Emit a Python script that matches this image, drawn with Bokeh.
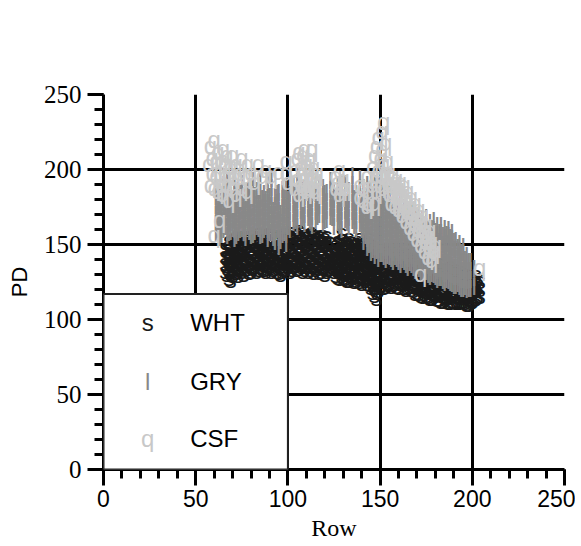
from bokeh.plotting import figure
from bokeh.models import (Range1d, SingleIntervalTicker, ColumnDataSource,
                          BoxAnnotation, Label)
from bokeh.core.properties import value
from bokeh.embed import file_html
from bokeh.resources import INLINE

# ---------------- data ----------------
SERIES = ["WHT", "GRY", "CSF"]
MARKS = ["s", "l", "q"]
COLORS = ["#1a1a1a", "#888888", "#c8c8c8"]

WHT_ROWS = [
    (66, [133, 138, 143, 148]), (67, [131, 137, 143, 149]),
    (68, [128, 134, 139, 144, 149, 153]), (69, [127, 133, 139, 145, 151]),
    (70, [130, 135, 140, 145, 150, 154]), (71, [132, 138, 144, 150, 155]),
    (72, [132, 137, 142, 147, 152, 156]), (73, [130, 136, 142, 148, 154]),
    (74, [134, 139, 144, 149, 153]), (75, [133, 139, 145, 151, 156]),
    (76, [131, 136, 141, 146, 151, 155]), (77, [134, 140, 146, 152, 156]),
    (78, [135, 140, 145, 150, 155]), (79, [132, 138, 144, 150, 155]),
    (80, [133, 138, 143, 148, 153, 157]), (81, [135, 141, 147, 153, 157]),
    (82, [136, 141, 146, 151, 155]), (83, [133, 139, 145, 151, 156]),
    (84, [134, 139, 144, 149, 154, 158]), (85, [136, 142, 148, 154]),
    (86, [135, 140, 145, 150, 155]), (87, [134, 140, 146, 152, 157]),
    (88, [133, 138, 143, 148, 153, 157]), (89, [135, 141, 147, 153, 158]),
    (90, [136, 141, 146, 151, 156]), (91, [133, 139, 145, 151, 156]),
    (92, [134, 139, 144, 149, 154]), (93, [135, 141, 147, 153]),
    (94, [133, 138, 143, 148, 153, 157]), (95, [132, 138, 144, 150, 156]),
    (96, [131, 136, 141, 146, 151, 155]), (97, [133, 139, 145, 151, 157]),
    (98, [134, 139, 144, 149, 154, 158]), (99, [135, 141, 147, 153, 157]),
    (100, [136, 141, 146, 151, 156]), (101, [133, 139, 145, 151, 157]),
    (102, [134, 139, 144, 149, 154, 159]), (103, [136, 142, 148, 154, 159]),
    (104, [137, 142, 147, 152, 157]), (105, [134, 140, 146, 152, 158]),
    (106, [135, 140, 145, 150, 155, 160]), (107, [136, 142, 148, 154, 159]),
    (108, [133, 138, 143, 148, 153, 157]), (109, [134, 140, 146, 152, 157]),
    (110, [136, 141, 146, 151, 156]), (111, [133, 139, 145, 151, 157]),
    (112, [134, 139, 144, 149, 154, 158]), (113, [136, 142, 148, 154, 159]),
    (114, [132, 137, 142, 147, 152, 156]), (115, [134, 140, 146, 152, 157]),
    (116, [135, 140, 145, 150, 155]), (117, [132, 138, 144, 150, 156]),
    (118, [133, 138, 143, 148, 153, 157]), (119, [135, 141, 147, 153, 157]),
    (120, [131, 136, 141, 146, 151, 155]), (121, [133, 139, 145, 151, 156]),
    (122, [134, 139, 144, 149, 153]), (123, [135, 141, 147, 152]),
    (124, [136, 141, 146]), (125, [133, 139, 145]),
    (126, [130, 135, 140, 145, 150]), (127, [129, 135, 141, 147, 153]),
    (128, [128, 133, 138, 143, 148, 153]), (129, [130, 136, 142, 148, 154, 158]),
    (130, [129, 134, 139, 144, 149, 154]), (131, [128, 134, 140, 146, 152]),
    (132, [127, 132, 137, 142, 147, 152]), (133, [127, 133, 139, 145, 151, 155]),
    (134, [128, 133, 138, 143, 148, 153]), (135, [129, 135, 141, 147, 152]),
    (136, [126, 131, 136, 141, 146, 151]), (137, [127, 133, 139, 145, 151]),
    (138, [128, 133, 138, 143, 148, 153]), (139, [126, 132, 138, 144, 150, 155]),
    (140, [125, 130, 135, 140, 145, 150]), (141, [128, 134, 140, 146, 151]),
    (142, [127, 132, 137, 142, 147, 152]), (143, [125, 131, 137, 143, 149, 153]),
    (144, [124, 129, 134, 139, 144, 149, 155]), (145, [122, 128, 134, 140, 146, 151]),
    (146, [119, 125, 130, 135, 140, 145, 150]), (147, [117, 124, 130, 136, 142, 148]),
    (148, [115, 122, 128, 133, 138, 143, 148]), (149, [120, 126, 132, 138, 144, 149]),
    (150, [123, 128, 133, 138, 143, 148]), (151, [124, 130, 136, 142, 147]),
    (152, [122, 127, 132, 137, 142, 147]), (153, [123, 129, 135, 141, 146]),
    (154, [124, 129, 134, 139, 144, 148]), (155, [125, 131, 137, 143, 147]),
    (156, [123, 128, 133, 138, 143, 147]), (157, [124, 130, 136, 142, 146]),
    (158, [125, 130, 135, 140, 145]), (159, [123, 129, 135, 141, 145]),
    (160, [122, 127, 132, 137, 142, 146]), (161, [125, 131, 137, 143]),
    (162, [124, 129, 134, 139, 144]), (163, [122, 128, 134, 140, 144]),
    (164, [121, 126, 131, 136, 141, 145]), (165, [122, 128, 134, 140]),
    (166, [123, 128, 133, 138, 142]), (167, [121, 127, 133, 139]),
    (168, [120, 125, 130, 135, 140]), (169, [118, 124, 130, 136, 141]),
    (170, [119, 124, 129, 134, 139]), (171, [118, 124, 130, 136]),
    (172, [117, 122, 127, 132, 137]), (173, [116, 122, 128, 134, 138]),
    (174, [118, 123, 128, 133, 138]), (175, [117, 123, 129, 135]),
    (176, [116, 121, 126, 131, 136]), (177, [115, 121, 127, 133, 137]),
    (178, [115, 120, 125, 130, 135, 139]), (179, [116, 122, 128, 134]),
    (180, [117, 122, 127, 132, 137]), (181, [114, 120, 126, 132, 137]),
    (182, [114, 119, 124, 129, 134, 138]), (183, [113, 119, 125, 131, 135]),
    (184, [113, 118, 123, 128, 133]), (185, [114, 120, 126, 132]),
    (186, [115, 120, 125, 130, 135]), (187, [112, 118, 124, 130, 134]),
    (188, [112, 117, 122, 127, 132, 136]), (189, [113, 119, 125, 131]),
    (190, [113, 118, 123, 128, 133]), (191, [112, 118, 124, 130, 134]),
    (192, [112, 117, 122, 127, 132]), (193, [112, 118, 124, 130]),
    (194, [113, 118, 123, 128, 133]), (195, [113, 119, 125, 131]),
    (196, [112, 117, 122, 127, 131]), (197, [111, 117, 123, 129]),
    (198, [111, 116, 121, 126, 131]), (199, [112, 118, 124, 130]),
    (200, [113, 118, 123, 128]), (201, [114, 120, 126]),
    (202, [115, 120, 125, 130]), (203, [116, 122, 128]), (204, [116, 121, 126]),
]

GRY_ROWS = [
    (61, [158, 164, 170, 176, 182, 188]), (62, [160, 166, 172, 178]),
    (63, [155, 161, 167, 173, 179, 185]), (64, [157, 163, 169, 175, 181]),
    (65, [160, 166, 172, 178, 184, 190]), (66, [162, 168, 174, 180]),
    (67, [156, 162, 168, 174, 180, 186, 192]), (68, [158, 164, 170, 176, 182]),
    (69, [159, 165, 171, 177, 183]), (70, [161, 167, 173, 179]),
    (71, [154, 160, 166, 172, 178, 184, 190]), (72, [156, 162, 168, 174, 180]),
    (73, [158, 164, 170, 176, 182, 188]), (74, [160, 166, 172, 178, 184]),
    (75, [161, 167, 173, 179, 185, 191]), (76, [158, 164, 170, 176]),
    (77, [155, 161, 167, 173, 179, 185]), (78, [162, 168, 174, 180, 186]),
    (79, [159, 165, 171, 177, 183, 189]), (80, [156, 162, 168, 174]),
    (81, [157, 163, 169, 175, 181, 187, 193]), (82, [159, 165, 171, 177, 183]),
    (83, [162, 168, 174, 180, 186]), (84, [161, 167, 173, 179]),
    (85, [156, 162, 168, 174, 180, 186, 192]), (86, [157, 163, 169, 175, 181]),
    (87, [160, 166, 172, 178, 184]), (88, [162, 168, 174, 180]),
    (89, [154, 160, 166, 172, 178, 184, 190]), (90, [158, 164, 170, 176, 182]),
    (91, [158, 164, 170, 176, 182, 188, 194]), (92, [155, 161, 167, 173]),
    (93, [152, 158, 164, 170, 176, 182]), (94, [160, 166, 172, 178, 184]),
    (95, [149, 155, 161, 167, 173, 179, 185]), (96, [153, 159, 165, 171]),
    (97, [157, 163, 169, 175, 181, 187]), (98, [158, 164, 170, 176, 182]),
    (99, [151, 157, 163, 169, 175, 181, 187]), (100, [162, 168, 174, 180]),
    (101, [160, 166, 172, 178, 184, 190]), (103, [165, 171, 177, 183, 189]),
    (104, [166, 172, 178, 184]), (105, [162, 168, 174, 180, 186, 192]),
    (107, [167, 173, 179, 185, 191]), (108, [168, 174, 180, 186]),
    (109, [164, 170, 176, 182, 188]), (111, [168, 174, 180, 186, 192]),
    (112, [166, 172, 178]), (113, [163, 169, 175, 181, 187]),
    (115, [166, 172, 178, 184, 190]), (116, [169, 175, 181]),
    (117, [170, 176, 182, 188]), (119, [164, 170, 176, 182, 188]),
    (120, [166, 172, 178, 184]), (121, [167, 173, 179, 185]),
    (123, [169, 175, 181, 187, 193]), (124, [168, 174, 180]),
    (125, [162, 168, 174, 180, 186]), (127, [165, 171, 177, 183, 189]),
    (128, [163, 169, 175, 181]), (129, [160, 166, 172, 178, 184, 190]),
    (131, [167, 173, 179, 185, 191]), (132, [165, 171, 177]),
    (133, [162, 168, 174, 180, 186]), (135, [166, 172, 178, 184, 190, 196]),
    (136, [163, 169, 175, 181]), (137, [160, 166, 172, 178, 184]),
    (139, [164, 170, 176, 182, 188, 194]), (140, [160, 166, 172, 178]),
    (141, [152, 158, 164, 170, 176, 182, 188]), (142, [156, 162, 168, 174, 180]),
    (143, [148, 154, 160, 166, 172, 178, 184, 190]), (144, [150, 156, 162, 168, 174, 180, 186]),
    (145, [145, 151, 157, 163, 169, 175, 181, 187, 193]), (146, [147, 153, 159, 165, 171, 177]),
    (147, [143, 149, 155, 161, 167, 173, 179, 185, 191]), (148, [146, 152, 158, 164, 170, 176, 182]),
    (149, [141, 147, 153, 159, 165, 171, 177, 183, 189]), (150, [144, 150, 156, 162, 168, 174]),
    (151, [144, 150, 156, 162, 168, 174, 180, 186, 192]), (152, [142, 148, 154, 160, 166, 172, 178]),
    (153, [140, 146, 152, 158, 164, 170, 176, 182, 188]), (154, [143, 149, 155, 161, 167, 173]),
    (155, [142, 148, 154, 160, 166, 172, 178, 184]), (156, [141, 147, 153, 159, 165, 171]),
    (157, [139, 145, 151, 157, 163, 169, 175, 181]), (158, [142, 148, 154, 160, 166, 172]),
    (159, [141, 147, 153, 159, 165, 171, 177]), (160, [139, 145, 151, 157, 163, 169]),
    (161, [137, 143, 149, 155, 161, 167, 173, 179]), (162, [140, 146, 152, 158, 164, 170]),
    (163, [139, 145, 151, 157, 163, 169, 175]), (164, [137, 143, 149, 155, 161, 167]),
    (165, [135, 141, 147, 153, 159, 165, 171]), (166, [138, 144, 150, 156, 162, 168]),
    (167, [137, 143, 149, 155, 161, 167, 173]), (168, [135, 141, 147, 153, 159, 165]),
    (169, [133, 139, 145, 151, 157, 163, 169]), (170, [136, 142, 148, 154, 160, 166]),
    (171, [134, 140, 146, 152, 158, 164, 170]), (172, [132, 138, 144, 150, 156, 162]),
    (173, [131, 137, 143, 149, 155, 161, 167]), (174, [133, 139, 145, 151, 157, 163]),
    (175, [132, 138, 144, 150, 156, 162, 168]), (176, [130, 136, 142, 148, 154, 160]),
    (177, [129, 135, 141, 147, 153, 159, 165]), (178, [131, 137, 143, 149, 155, 161]),
    (179, [130, 136, 142, 148, 154, 160, 166]), (180, [129, 135, 141, 147, 153, 159]),
    (181, [127, 133, 139, 145, 151, 157, 163]), (182, [128, 134, 140, 146, 152, 158]),
    (183, [128, 134, 140, 146, 152, 158, 163]), (184, [126, 132, 138, 144, 150, 156]),
    (185, [125, 131, 137, 143, 149, 155, 161]), (186, [127, 133, 139, 145, 151, 157]),
    (187, [126, 132, 138, 144, 150, 156, 160]), (188, [125, 131, 137, 143, 149, 155]),
    (189, [124, 130, 136, 142, 148, 154, 158]), (190, [123, 129, 135, 141, 147, 152]),
    (191, [123, 129, 135, 141, 147, 153]), (192, [124, 130, 136, 142, 148]),
    (193, [122, 128, 134, 140, 146, 151]), (194, [121, 127, 133, 139, 145]),
    (195, [121, 127, 133, 139, 145, 149]), (196, [122, 128, 134, 140]),
    (197, [120, 126, 132, 138, 143]), (198, [121, 127, 133, 139]),
    (199, [121, 127, 133, 139]), (201, [122, 128, 134]),
]

CSF_ROWS = [
    (57, [204]), (58, [190, 216]), (59, [198, 208]), (60, [157, 188, 220]),
    (61, [196, 206]), (62, [186, 212]), (63, [167, 198]), (64, [190, 206]),
    (65, [184, 214]), (66, [196, 204]), (67, [190, 210]), (68, [180, 198]),
    (69, [202]), (70, [188, 210]), (71, [196]), (72, [184, 204]), (74, [198]),
    (75, [188, 208]), (77, [196]), (78, [186, 204]), (80, [198]), (82, [192]),
    (84, [204]), (86, [196]), (88, [200]), (91, [196]), (95, [199]),
    (99, [198, 206]), (100, [192]),
    (104, [188, 200]), (105, [194, 208]), (106, [184, 212]), (107, [190, 202]),
    (108, [188, 198, 210]), (109, [194, 214]), (110, [186, 204]), (111, [190, 200]),
    (112, [188, 208]), (113, [196, 214]), (114, [188, 202]), (115, [186, 194]),
    (116, [198]), (126, [188, 196]), (127, [192]), (128, [184, 200]), (129, [188]),
    (130, [194]), (131, [188]), (139, [182, 190]), (141, [180, 188]), (143, [176, 196]),
    (144, [178, 186]), (146, [190, 202]), (147, [178, 210]), (148, [186, 196, 216]),
    (149, [200, 222]), (150, [190, 208]), (151, [196, 214, 226]), (152, [188, 204, 232]),
    (153, [198, 218]), (154, [192, 206]), (155, [184, 198]), (156, [178, 190]),
    (157, [186, 196]), (158, [176, 192]), (159, [182, 194]), (160, [174, 188]),
    (161, [178, 192]), (162, [170, 184]), (163, [176, 190]), (164, [166, 180]),
    (165, [172, 186]), (166, [162, 176]), (167, [168, 182]), (168, [158, 172]),
    (169, [164, 178]), (170, [154, 168]), (171, [160, 174]), (172, [131, 150, 166]),
    (173, [156, 170]), (174, [146, 160]), (175, [152, 164]), (176, [142, 156]),
    (177, [148, 160]), (178, [140, 152]), (179, [146]), (180, [150]), (204, [135]),
]

LEGEND_Y = [98, 59, 21]   # legend row positions (PD units)


def flatten(rows, mark):
    xs, ys = [], []
    for x, vals in rows:
        for v in vals:
            xs.append(x)
            ys.append(v)
    return dict(x=xs, y=ys, t=[mark] * len(xs))


SANS = "Liberation Sans"
SERIF = "Liberation Serif"

# ---------------- figure ----------------
p = figure(width=575, height=546, output_backend="svg", toolbar_location=None,
           x_range=Range1d(0, 250), y_range=Range1d(0, 250),
           min_border_left=103, min_border_right=11, min_border_top=94,
           min_border_bottom=77)
p.background_fill_color = "white"
p.border_fill_color = "white"
p.outline_line_color = None

ticker = SingleIntervalTicker(interval=50, num_minor_ticks=5)
for ax in (p.xaxis[0], p.yaxis[0]):
    ax.ticker = ticker
    ax.axis_line_width = 3
    ax.axis_line_color = "black"
    ax.major_tick_in = 0
    ax.major_tick_out = 16
    ax.minor_tick_in = 0
    ax.minor_tick_out = 9
    ax.major_tick_line_width = 3
    ax.minor_tick_line_width = 3
    ax.major_tick_line_color = "black"
    ax.minor_tick_line_color = "black"
    ax.major_label_text_color = "black"
    ax.axis_label_text_color = "black"
    ax.axis_label_text_font_style = "normal"

xa = p.xaxis[0]
xa.major_label_text_font = SANS
xa.major_label_text_font_size = "23px"
xa.major_label_standoff = 4
xa.axis_label = "Row"
xa.axis_label_text_font = SERIF
xa.axis_label_text_font_size = "24px"
xa.axis_label_standoff = 5

ya = p.yaxis[0]
ya.major_label_text_font = SERIF
ya.major_label_text_font_size = "25px"
ya.major_label_text_font_style = "normal"
ya.major_label_standoff = 6
ya.axis_label = "PD"
ya.axis_label_text_font = SANS
ya.axis_label_text_font_size = "22px"
ya.axis_label_standoff = 9

for g in (p.xgrid[0], p.ygrid[0]):
    g.ticker = ticker
    g.grid_line_color = "black"
    g.grid_line_width = 3
    g.grid_line_alpha = 1.0

for rows, mark, col in zip([WHT_ROWS, GRY_ROWS, CSF_ROWS], MARKS, COLORS):
    src = ColumnDataSource(flatten(rows, mark))
    p.text(x="x", y="y", text="t", source=src, text_color=col,
           text_font=value(SANS), text_font_size="24px",
           text_align="center", text_baseline="middle")

# legend box
p.add_layout(BoxAnnotation(left=0, right=100, bottom=0, top=117,
                           fill_color="white", fill_alpha=1.0,
                           line_color="#222222", line_width=2, line_alpha=1.0))
for name, mark, col, ly in zip(SERIES, MARKS, COLORS, LEGEND_Y):
    p.add_layout(Label(x=24, y=ly, text=mark, text_align="center",
                       text_baseline="middle", text_font=SANS,
                       text_font_size="24px", text_color=col))
    p.add_layout(Label(x=47, y=ly, text=name, text_align="left",
                       text_baseline="middle", text_font=SANS,
                       text_font_size="24px", text_color="black"))

open("out.html", "w").write(file_html(p, INLINE))
